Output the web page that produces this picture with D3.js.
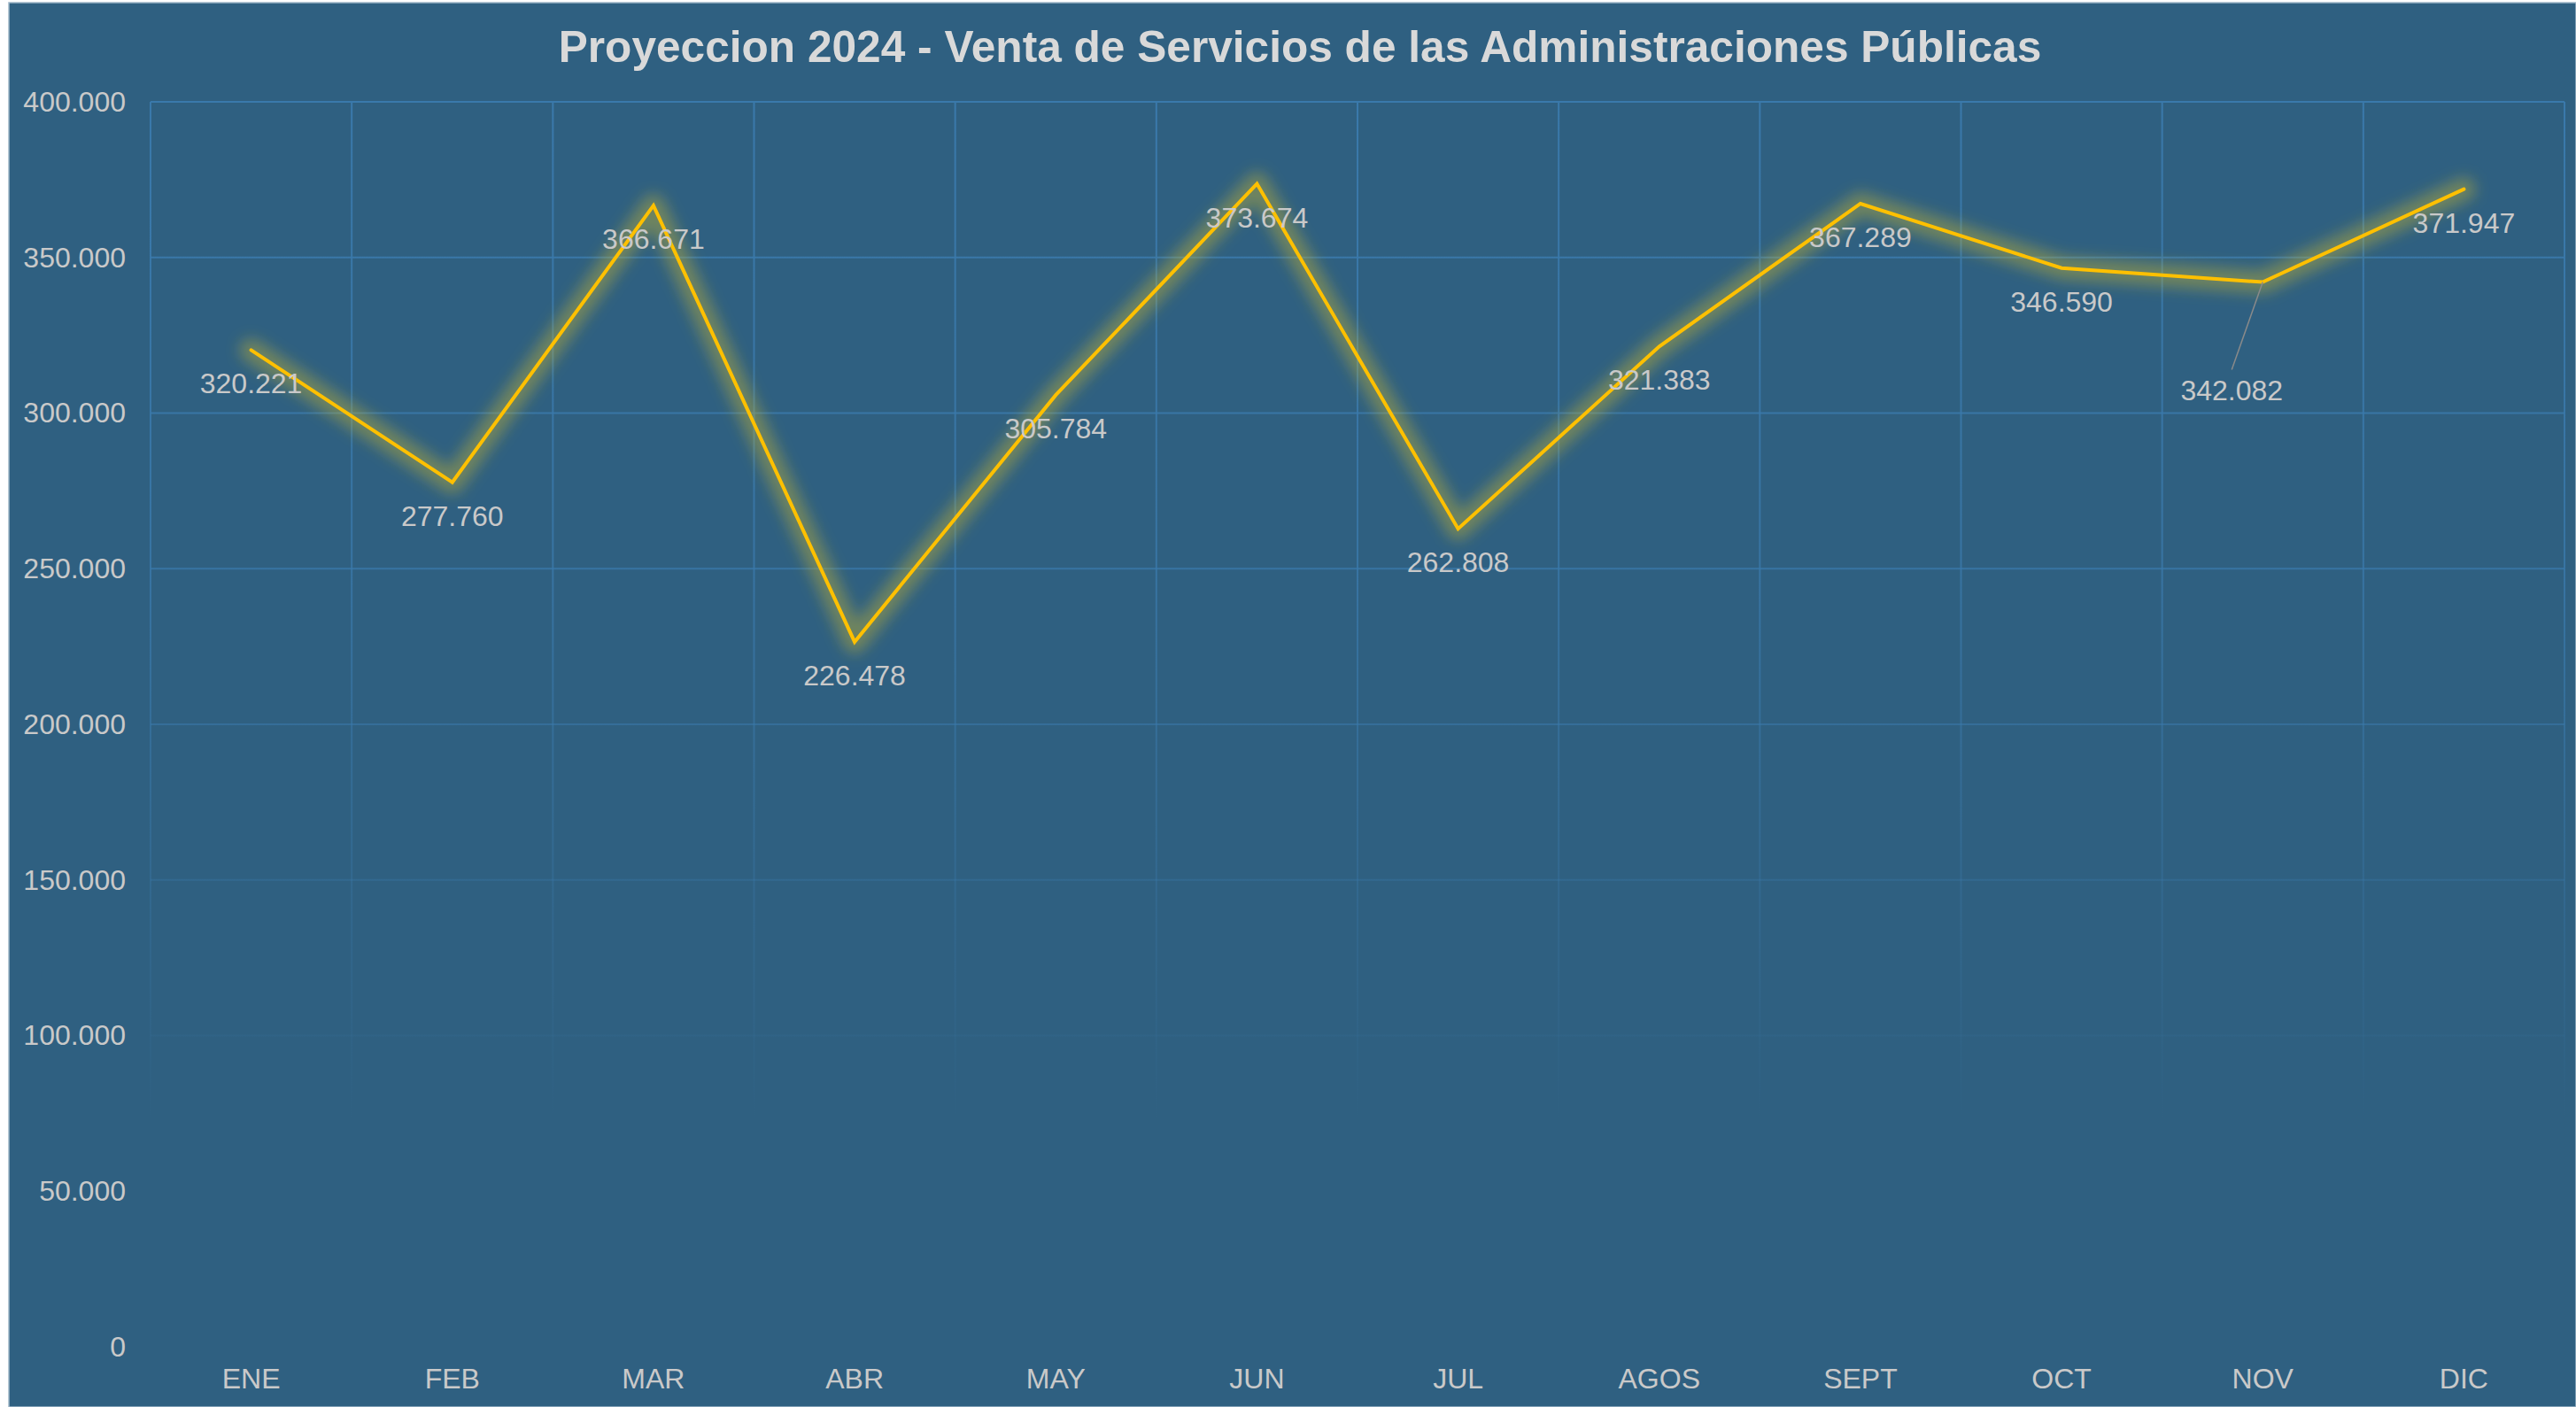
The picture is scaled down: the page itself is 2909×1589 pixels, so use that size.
<!DOCTYPE html>
<html>
<head>
<meta charset="utf-8">
<script src="https://cdn.jsdelivr.net/npm/d3@7"></script>
<style>
  html, body { margin: 0; padding: 0; background: #ffffff; }
  svg { display: block; }
</style>
</head>
<body>
<svg id="chart" width="2909" height="1589"></svg>
<script>
// ---- data ----
const categories = ["ENE","FEB","MAR","ABR","MAY","JUN","JUL","AGOS","SEPT","OCT","NOV","DIC"];
const values = [320221, 277760, 366671, 226478, 305784, 373674, 262808, 321383, 367289, 346590, 342082, 371947];
const yTicks = [0, 50000, 100000, 150000, 200000, 250000, 300000, 350000, 400000];
const titleText = "Proyeccion 2024 - Venta de Servicios de las Administraciones Públicas";

// ---- layout ----
const W = 2909, H = 1589;
const panel = {x: 10, y: 3};
const plot = {left: 170, right: 2896, top: 115, bottom: 1521};
const fontFam = "'Liberation Sans', Arial, Helvetica, sans-serif";
const textColor = "#c9c9c9";

const loc = d3.formatLocale({decimal: ",", thousands: ".", grouping: [3], currency: ["", ""]});
const fmt = loc.format(",d");

const svg = d3.select("#chart");
const defs = svg.append("defs");

// gridline fade gradient
const gg = defs.append("linearGradient")
  .attr("id", "gridFade").attr("gradientUnits", "userSpaceOnUse")
  .attr("x1", 0).attr("x2", 0).attr("y1", plot.top).attr("y2", 1265);
gg.append("stop").attr("offset", "0%").attr("stop-color", "#3a79ab").attr("stop-opacity", 1);
gg.append("stop").attr("offset", "45%").attr("stop-color", "#3a79ab").attr("stop-opacity", 0.8);
gg.append("stop").attr("offset", "100%").attr("stop-color", "#3a79ab").attr("stop-opacity", 0);

// glow filter
const f = defs.append("filter").attr("id", "glow")
  .attr("x", "-10%").attr("y", "-20%").attr("width", "120%").attr("height", "140%");
f.append("feGaussianBlur").attr("stdDeviation", 8);

// panel background
svg.append("rect")
  .attr("x", panel.x).attr("y", panel.y)
  .attr("width", W - panel.x).attr("height", H - panel.y)
  .attr("fill", "#2f6081")
  .attr("stroke", "#9fb6c8").attr("stroke-width", 1.5);

// scales
const x = d3.scaleBand().domain(categories).range([plot.left, plot.right]).paddingInner(0).paddingOuter(0);
const xc = d => x(d) + x.bandwidth() / 2;
const y = d3.scaleLinear().domain([0, 400000]).range([plot.bottom, plot.top]);

// gridlines
const grid = svg.append("g").attr("stroke", "url(#gridFade)").attr("stroke-width", 2);
grid.selectAll("line.h").data(yTicks).join("line")
  .attr("class", "h")
  .attr("x1", plot.left).attr("x2", plot.right)
  .attr("y1", d => y(d)).attr("y2", d => y(d));
const vEdges = categories.map(c => x(c)).concat([plot.right]);
grid.selectAll("line.v").data(vEdges).join("line")
  .attr("class", "v")
  .attr("x1", d => d).attr("x2", d => d)
  .attr("y1", plot.top).attr("y2", plot.bottom);

// y axis
const yAxis = svg.append("g")
  .attr("transform", `translate(${plot.left},0)`)
  .call(d3.axisLeft(y).tickValues(yTicks).tickFormat(fmt).tickSize(0).tickPadding(28));
yAxis.select(".domain").remove();
yAxis.selectAll("text")
  .attr("fill", textColor).style("font-family", fontFam).style("font-size", "32px");

// x axis
const xAxis = svg.append("g")
  .attr("transform", `translate(0,${plot.bottom})`)
  .call(d3.axisBottom(x).tickSize(0).tickPadding(24));
xAxis.select(".domain").remove();
xAxis.selectAll("text")
  .attr("fill", textColor).style("font-family", fontFam).style("font-size", "32px");

// line
const pts = categories.map((c, i) => ({c, v: values[i]}));
const line = d3.line().x(d => xc(d.c)).y(d => y(d.v));

svg.append("path")
  .datum(pts)
  .attr("d", line)
  .attr("fill", "none")
  .attr("stroke", "#c8b432")
  .attr("stroke-opacity", 0.42)
  .attr("stroke-width", 26)
  .attr("stroke-linejoin", "round")
  .attr("stroke-linecap", "round")
  .attr("filter", "url(#glow)");

svg.append("path")
  .datum(pts)
  .attr("d", line)
  .attr("fill", "none")
  .attr("stroke", "#ffc000")
  .attr("stroke-width", 4)
  .attr("stroke-linejoin", "miter")
  .attr("stroke-linecap", "round");

// data labels (NOV label was dragged away with a leader line)
const moved = {"NOV": {dx: -35, dy: 133, lx: -35, ly: 99}};
const lbl = svg.append("g");
pts.forEach(d => {
  const px = xc(d.c), py = y(d.v);
  const m = moved[d.c];
  if (m) {
    lbl.append("line")
      .attr("x1", px).attr("y1", py)
      .attr("x2", px + m.lx).attr("y2", py + m.ly)
      .attr("stroke", "#8a8a8a").attr("stroke-width", 1.5);
    lbl.append("text")
      .attr("x", px + m.dx).attr("y", py + m.dy)
      .attr("text-anchor", "middle")
      .attr("fill", textColor).style("font-family", fontFam).style("font-size", "32px")
      .text(fmt(d.v));
  } else {
    lbl.append("text")
      .attr("x", px).attr("y", py + 49)
      .attr("text-anchor", "middle")
      .attr("fill", textColor).style("font-family", fontFam).style("font-size", "32px")
      .text(fmt(d.v));
  }
});

// title
const t = svg.append("text")
  .attr("x", 1468).attr("y", 70)
  .attr("text-anchor", "middle")
  .attr("fill", "#d9d9d9")
  .style("font-family", fontFam).style("font-weight", "bold").style("font-size", "50px")
  .text(titleText);
const tw = t.node().getComputedTextLength();
const targetW = 1675;
t.style("font-size", (50 * targetW / tw).toFixed(2) + "px");
</script>
</body>
</html>
